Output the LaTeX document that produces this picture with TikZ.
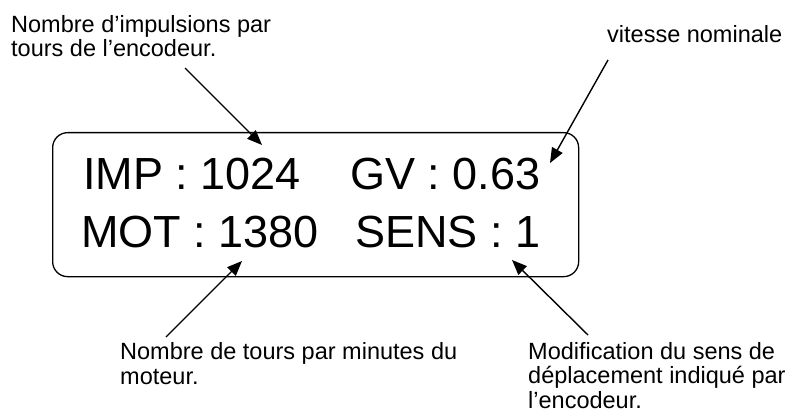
\documentclass[tikz,border=0pt]{standalone}
\usepackage{fontspec}
\setmainfont{Liberation Sans}
\usetikzlibrary{arrows.meta}

\tikzset{
  % multi-line notes are placed by the baseline of their last line
  note/.style={anchor=base west, inner sep=0pt, align=left,
    font=\fontsize{23.5}{24.5}\selectfont},
  reading/.style={anchor=base west, inner sep=0pt,
    font=\fontsize{45}{50}\selectfont},
  pointer/.style={line width=1.4pt, -{Triangle[length=15pt,width=12pt]}},
  panel/.style={draw, line width=1.3pt, rounded corners=15pt}
}

\begin{document}
\begin{tikzpicture}[x=1pt, y=-1pt]
  \useasboundingbox (0,0) rectangle (799,414);

  % display panel
  \node[panel, minimum width=526pt, minimum height=144pt, anchor=north west,
        inner sep=0pt] (lcd) at (52,132) {};

  % displayed values
  \node[reading] (imp)  at (83,189)  {IMP : 1024};
  \node[reading] (gv)   at (350,189) {GV : 0.63};
  \node[reading] (mot)  at (81,247)  {MOT : 1380};
  \node[reading] (sens) at (355,247) {SENS : 1};

  % annotations
  \node[note] (nimp)  at (11,57)   {Nombre d’impulsions par\\tours de l’encodeur.};
  \node[note] (ngv)   at (607,43)  {vitesse nominale};
  \node[note] (nmot)  at (120,384) {Nombre de tours par minutes du\\moteur.};
  \node[note] (nsens) at (528,408) {Modification du sens de\\déplacement indiqué par\\l’encodeur.};

  % pointer ends
  \coordinate (impfrom)  at (185,68);
  \coordinate (impto)    at (262,145);
  \coordinate (gvfrom)   at (608,60);
  \coordinate (gvto)     at (550,163);
  \coordinate (motfrom)  at (166,337);
  \coordinate (motto)    at (242,261);
  \coordinate (sensfrom) at (588,335);
  \coordinate (sensto)   at (512,260);

  \draw[pointer] (impfrom) -- (impto);
  \draw[pointer] (gvfrom) -- (gvto);
  \draw[pointer] (motfrom) -- (motto);
  \draw[pointer] (sensfrom) -- (sensto);
\end{tikzpicture}
\end{document}
